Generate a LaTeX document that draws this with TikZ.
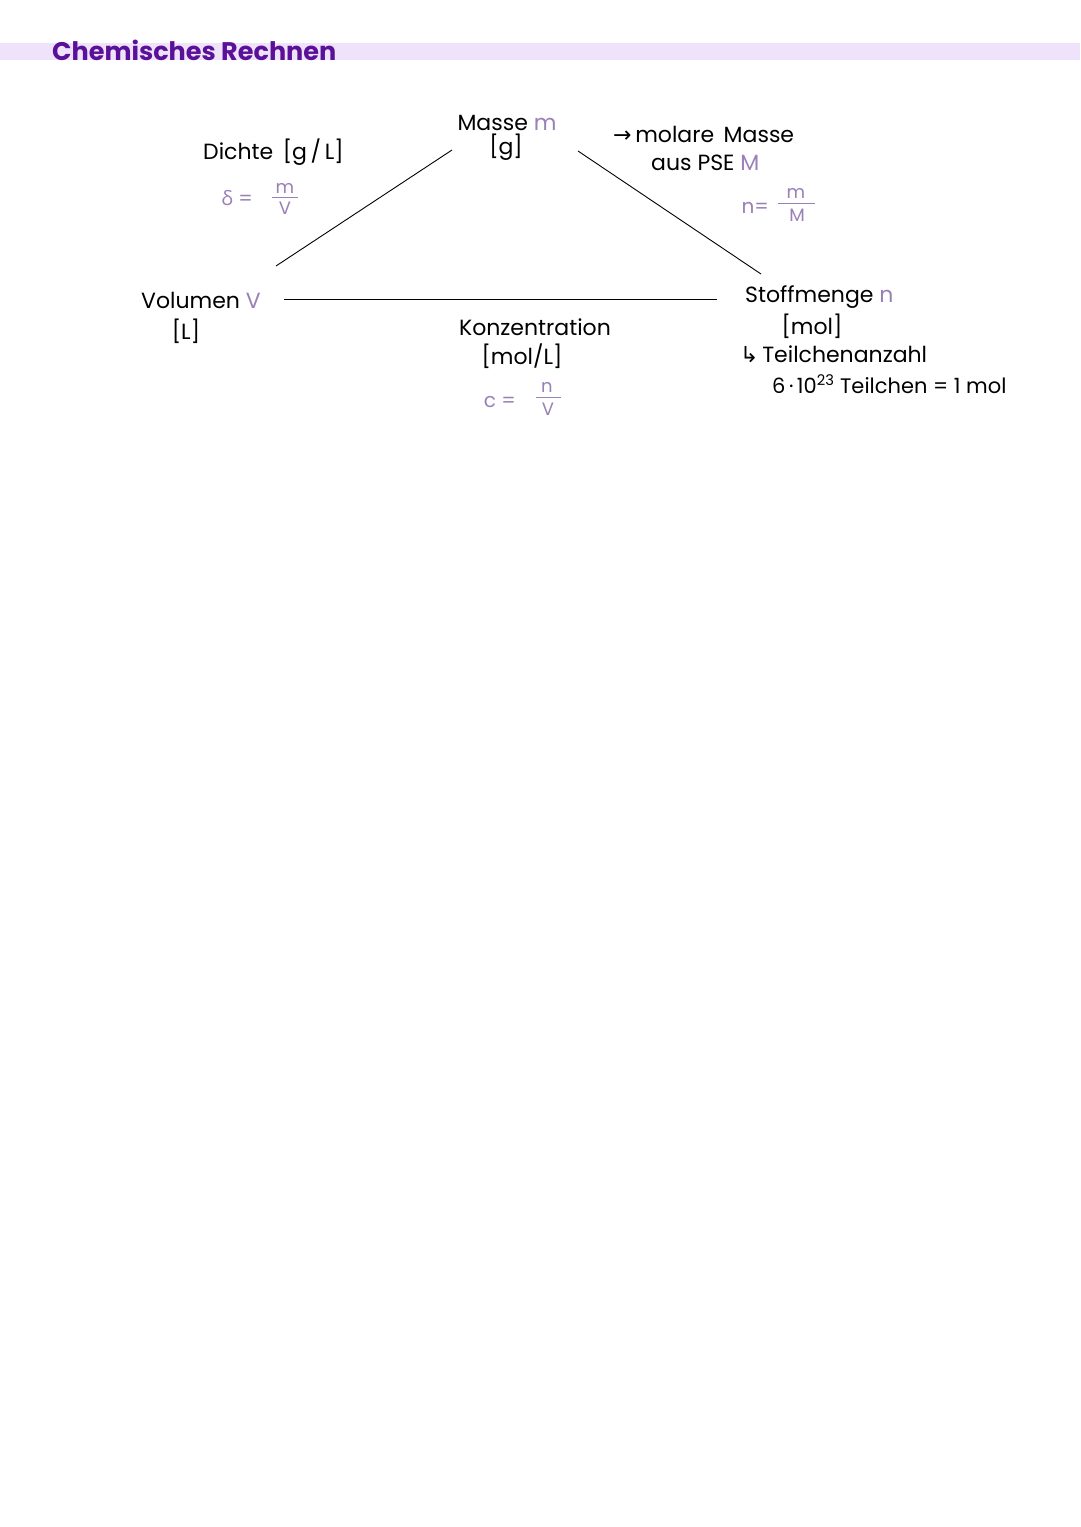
\documentclass[tikz,border=0pt]{standalone}
\usepackage{fontspec}
\setmainfont{Poppins}
\newfontfamily\symfont{DejaVu Sans}
\newfontfamily\grfont{Open Sans}
\definecolor{titlepurple}{HTML}{5A1098}
\definecolor{bandlav}{HTML}{EFE3FB}
\definecolor{formlav}{HTML}{9A80B8}
\begin{document}
\begin{tikzpicture}[x=1pt,y=-1pt,
  lbl/.style={inner sep=0pt,font=\fontsize{22}{25}\selectfont,text=black},
  frm/.style={inner sep=0pt,font=\fontsize{20}{22}\selectfont,text=formlav},
  frc/.style={inner sep=0pt,font=\fontsize{18}{19}\selectfont,text=formlav},
  bar/.style={draw=formlav,line width=0.9pt},
  conn/.style={draw=black,line width=0.9pt}]
\useasboundingbox[fill=white] (0,0) rectangle (1080,1527);
\fill[bandlav] (0,43) rectangle (1080,60);
\node[anchor=west,inner sep=0pt,text=titlepurple,font=\fontsize{25.5}{28}\selectfont\bfseries] (title) at (52,50) {Chemisches Rechnen};
% Masse
\node[lbl] (masse) at (507,123) {Masse \textcolor{formlav}{m}};
\node[lbl] (masseu) at (506,147) {[g]};
% Dichte
\node[lbl,anchor=west] (dichte) at (203,152) {Dichte\, [g\,/\,L]};
\node[frm,anchor=east] (dichteeq) at (253,198) {{\grfont δ} =};
\node[frc] (dnum) at (285,188) {m};
\node[frc] (dden) at (285,208) {V};
\coordinate (dbl) at (272,197); \coordinate (dbr) at (298,197);
\draw[bar] (dbl) -- (dbr);
% molare Masse
\node[lbl,anchor=west] (molar) at (613,134) {{\symfont→}\,molare\, Masse};
\node[lbl,anchor=west] (pse) at (651,163) {aus PSE \textcolor{formlav}{M}};
\node[frm,anchor=east] (neq) at (769,208) {n=};
\node[frc] (nnum) at (796,193) {m};
\node[frc] (nden) at (797,215) {M};
\coordinate (nbl) at (778,203); \coordinate (nbr) at (815,203);
\draw[bar] (nbl) -- (nbr);
% Volumen
\node[lbl,anchor=west] (vol) at (141,300) {Volumen \textcolor{formlav}{V}};
\node[lbl] (volu) at (186,331) {[L]};
% Konzentration
\node[lbl] (konz) at (535,327) {Konzentration};
\node[lbl] (konzu) at (522,356) {[mol/L]};
\node[frm,anchor=east] (ceq) at (516,402) {c =};
\node[frc] (cnum) at (547,387) {n};
\node[frc] (cden) at (548,409) {V};
\coordinate (cbl) at (536,397); \coordinate (cbr) at (561,397);
\draw[bar] (cbl) -- (cbr);
% Stoffmenge
\node[lbl,anchor=west] (stoff) at (745,297) {Stoffmenge \textcolor{formlav}{n}};
\node[lbl] (stoffu) at (812,326) {[mol]};
\node[lbl,anchor=west] (teil) at (740,354) {{\symfont↳}\,Teilchenanzahl};
\node[lbl,anchor=west,font=\fontsize{21}{23}\selectfont] (avog) at (772,384) {6\,·\,10\textsuperscript{23} Teilchen = 1 mol};
% connectors
\coordinate (a1) at (452,150);
\coordinate (a2) at (276,266);
\coordinate (b1) at (578,151);
\coordinate (b2) at (761,274);
\coordinate (c1) at (284,299);
\coordinate (c2) at (717,299);
\draw[conn] (a1) -- (a2);
\draw[conn] (b1) -- (b2);
\draw[conn] (c1) -- (c2);
\end{tikzpicture}
\end{document}
